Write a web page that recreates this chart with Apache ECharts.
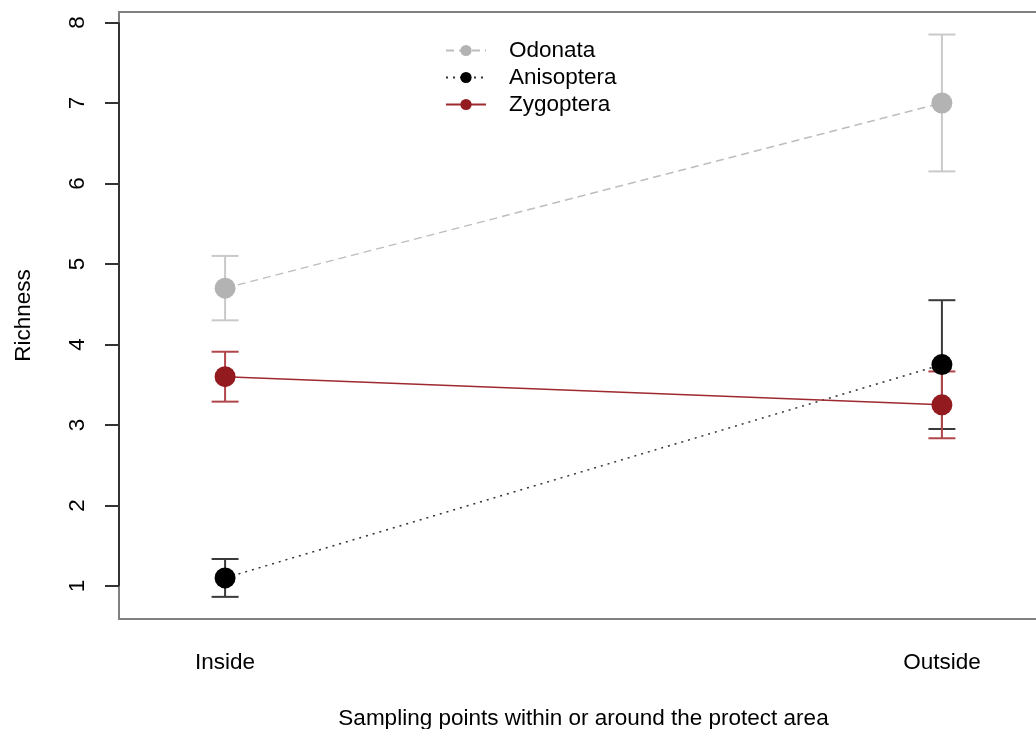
<!DOCTYPE html>
<html>
<head>
<meta charset="utf-8">
<script src="https://cdn.jsdelivr.net/npm/echarts@6/dist/echarts.min.js"></script>
<style>
  html, body { margin: 0; padding: 0; background: #ffffff; overflow: hidden; }
  /* plot region continues a little past the right edge of the window */
  #chart { width: 1048px; height: 729px; }
</style>
</head>
<body>
<div id="chart"></div>
<script>
// Sampling sites (placed at x = 1, 2)
const sites = ['Inside', 'Outside'];
const yTicks = [1, 2, 3, 4, 5, 6, 7, 8];

// Mean richness and error per group
const odonataMean = [4.7, 7.0];
const odonataErr = [0.40, 0.85];
const anisopteraMean = [1.1, 3.75];
const anisopteraErr = [0.235, 0.80];
const zygopteraMean = [3.6, 3.25];
const zygopteraErr = [0.31, 0.415];

const X_MIN = 0.852, X_MAX = 2.148;
const Y_MIN = 0.59, Y_MAX = 8.13;
const FONT = '"Liberation Sans", Arial, Helvetica, sans-serif';
const FS = 22.5;

const groups = [
  { name: 'Odonata', mean: odonataMean, err: odonataErr,
    color: '#b3b3b3', barColor: '#c9c9c9', lineType: [8, 5], lineColor: '#bdbdbd' },
  { name: 'Anisoptera', mean: anisopteraMean, err: anisopteraErr,
    color: '#000000', barColor: '#3a3a3a', lineType: [2, 5], lineColor: '#333333' },
  { name: 'Zygoptera', mean: zygopteraMean, err: zygopteraErr,
    color: '#931b1f', barColor: '#b0454a', lineType: 'solid', lineColor: '#9e2a2e' }
];

function errorBarSeries(g) {
  return {
    type: 'custom',
    name: g.name + ' se',
    z: 2,
    silent: true,
    data: sites.map((_, i) => [i + 1, g.mean[i] - g.err[i], g.mean[i] + g.err[i]]),
    renderItem: function (params, api) {
      const x = api.value(0);
      const lo = api.coord([x, api.value(1)]);
      const hi = api.coord([x, api.value(2)]);
      const hw = 13.5;
      const st = { stroke: g.barColor, lineWidth: 2 };
      return {
        type: 'group',
        children: [
          { type: 'line', shape: { x1: lo[0], y1: lo[1], x2: hi[0], y2: hi[1] }, style: st },
          { type: 'line', shape: { x1: lo[0] - hw, y1: lo[1], x2: lo[0] + hw, y2: lo[1] }, style: st },
          { type: 'line', shape: { x1: hi[0] - hw, y1: hi[1], x2: hi[0] + hw, y2: hi[1] }, style: st }
        ]
      };
    }
  };
}

function meanSeries(g) {
  return {
    type: 'line',
    name: g.name,
    z: 3,
    symbol: 'circle',
    symbolSize: 21,
    itemStyle: { color: g.color },
    lineStyle: { color: g.lineColor, width: 1.5, type: g.lineType },
    emphasis: { disabled: true },
    data: sites.map((_, i) => [i + 1, g.mean[i]])
  };
}

// Dark y-axis line running from the first to the last tick
const axisLineSeries = {
  type: 'custom',
  silent: true,
  z: 4,
  data: [[X_MIN, yTicks[0], yTicks[yTicks.length - 1]]],
  renderItem: function (params, api) {
    const a = api.coord([api.value(0), api.value(1)]);
    const b = api.coord([api.value(0), api.value(2)]);
    return { type: 'line', shape: { x1: a[0], y1: a[1], x2: b[0], y2: b[1] },
             style: { stroke: '#333333', lineWidth: 2 } };
  }
};

const chart = echarts.init(document.getElementById('chart'), null, { renderer: 'canvas' });
chart.setOption({
  animation: false,
  backgroundColor: '#ffffff',
  textStyle: { fontFamily: FONT },
  grid: {
    left: 119, top: 12, right: 0, bottom: 110,
    outerBoundsMode: 'none', containLabel: false,
    show: true, borderColor: '#808080', borderWidth: 2, backgroundColor: 'transparent'
  },
  legend: {
    orient: 'vertical',
    left: 440, top: 34,
    itemWidth: 40, itemHeight: 14, itemGap: 4,
    textStyle: { fontSize: FS, lineHeight: 18, color: '#000', fontFamily: FONT, padding: [0, 0, 0, 18] },
    data: groups.map(g => g.name)
  },
  xAxis: {
    type: 'value',
    min: X_MIN, max: X_MAX,
    splitLine: { show: false },
    axisLine: { show: false },
    axisTick: { show: false },
    axisLabel: {
      customValues: sites.map((_, i) => i + 1),
      formatter: v => sites[Math.round(v) - 1],
      fontSize: FS, color: '#000', margin: 32, fontFamily: FONT
    },
    name: 'Sampling points within or around the protect area',
    nameLocation: 'middle', nameGap: 88,
    nameTextStyle: { fontSize: FS, color: '#000', fontFamily: FONT }
  },
  yAxis: {
    type: 'value',
    min: Y_MIN, max: Y_MAX,
    splitLine: { show: false },
    axisLine: { show: false },
    axisTick: { show: true, customValues: yTicks, length: 14,
                lineStyle: { color: '#333333', width: 2 } },
    axisLabel: {
      customValues: yTicks, rotate: 90,
      fontSize: FS, color: '#000', margin: 30, fontFamily: FONT
    },
    name: 'Richness',
    nameLocation: 'middle', nameGap: 84, nameRotate: 90,
    nameTextStyle: { fontSize: FS, color: '#000', fontFamily: FONT }
  },
  series: [
    ...groups.map(errorBarSeries),
    ...groups.map(meanSeries),
    axisLineSeries
  ]
});
</script>
</body>
</html>
